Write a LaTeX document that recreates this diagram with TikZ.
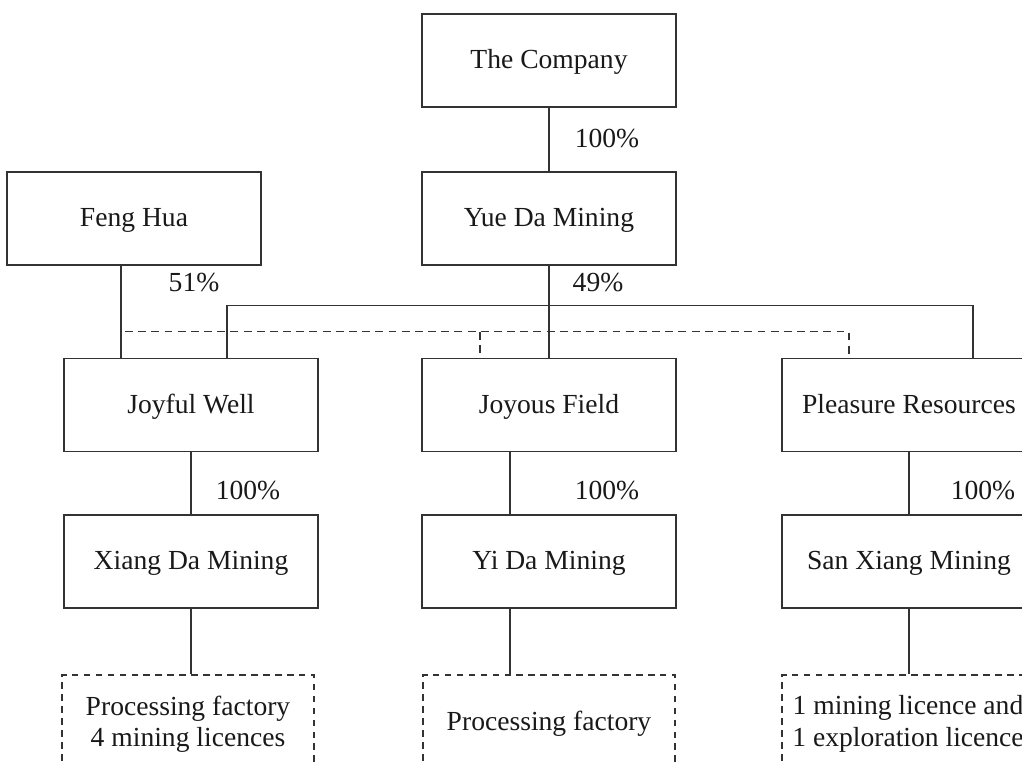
\documentclass[tikz,border=0pt]{standalone}
\usepackage{fontspec}
\setmainfont{Liberation Serif}
\usetikzlibrary{positioning,calc}

\begin{document}
\begin{tikzpicture}[
    x=0.02cm, y=-0.02cm,
    % Define styles
    entity/.style={
        rectangle,
        draw=black!80,
        line width=0.8pt,
        minimum width=5.08cm,
        minimum height=1.86cm,
        text height=11pt,
        text depth=1.4pt,
        font=\fontsize{15.7}{19}\selectfont,
        text=black!90
    },
    asset/.style={
        rectangle,
        draw=black!80,
        line width=0.7pt,
        dash pattern=on 3.8pt off 3pt,
        minimum width=5.04cm,
        minimum height=1.96cm,
        align=center,
        font=\fontsize{15.7}{17.9}\selectfont,
        text=black!90
    },
    link/.style={
        black!80,
        line width=0.6pt
    },
    share_link/.style={
        link,
        dash pattern=on 4.5pt off 3pt
    },
    pct_text/.style={
        font=\fontsize{15.7}{19}\selectfont,
        text=black!90
    }
]

    % Frame of the picture
    \clip (0,0) rectangle (1022,764);

    % --- Top Row ---
    \node[entity] (company) at (549, 60.5) {The Company};
    \node[entity] (yueda) at (549, 218.5) {Yue Da Mining};
    \node[entity] (fenghua) at (134, 218.5) {Feng Hua};

    % --- Middle Row (holding companies) ---
    \node[entity] (joyful) at (191, 405) {Joyful Well};
    \node[entity] (joyous) at (549, 405) {Joyous Field};
    \node[entity] (pleasure) at (909, 405) {Pleasure Resources};

    % --- Lower Row (mining companies) ---
    \node[entity] (xiangda) at (191, 561.5) {Xiang Da Mining};
    \node[entity] (yida) at (549, 561.5) {Yi Da Mining};
    \node[entity] (sanxiang) at (909, 561.5) {San Xiang Mining};

    % --- Bottom Row (assets, dashed) ---
    \node[asset] (lic1) at (188, 724) {Processing factory\\4 mining licences};
    \node[asset] (lic2) at (549, 724) {Processing factory};
    \node[asset] (lic3) at (908, 724) {1 mining licence and\\1 exploration licence};

    % Shareholdings
    \draw[link] (company) -- (yueda);
    \draw[link] (yueda) -- (joyous);
    \draw[link] ($(joyful.north)+(36,0)$) -- ++(0,-52.5) -| ($(pleasure.north)+(64,0)$);
    \draw[link] ($(fenghua.south)+(-13,0)$) -- ($(joyful.north)+(-70,0)$);

    % Dashed shares of Feng Hua
    \draw[share_link] ($(joyful.north)+(-66,-26)$) -- ($(pleasure.north)+(-60,-26)$) -- ($(pleasure.north)+(-60,0)$);
    \draw[share_link] ($(joyous.north)+(-69,-26)$) -- ($(joyous.north)+(-69,0)$);

    % Subsidiaries
    \draw[link] (joyful) -- (xiangda);
    \draw[link] ($(joyous.south)+(-39,0)$) -- ($(yida.north)+(-39,0)$);
    \draw[link] (pleasure) -- (sanxiang);

    % Assets
    \draw[link] (xiangda.south) -- (xiangda.south |- lic1.north);
    \draw[link] ($(yida.south)+(-39,0)$) -- ($(lic2.north)+(-39,0)$);
    \draw[link] (sanxiang.south) -- (sanxiang.south |- lic3.north);

    % Percentages
    \node[pct_text] (pct_company) at (607, 139) {100\%};
    \node[pct_text] (pct_fenghua) at (194, 283) {51\%};
    \node[pct_text] (pct_yueda) at (598, 283) {49\%};
    \node[pct_text] (pct_joyful) at (248, 491) {100\%};
    \node[pct_text] (pct_joyous) at (607, 491) {100\%};
    \node[pct_text] (pct_pleasure) at (983, 491) {100\%};

\end{tikzpicture}
\end{document}
